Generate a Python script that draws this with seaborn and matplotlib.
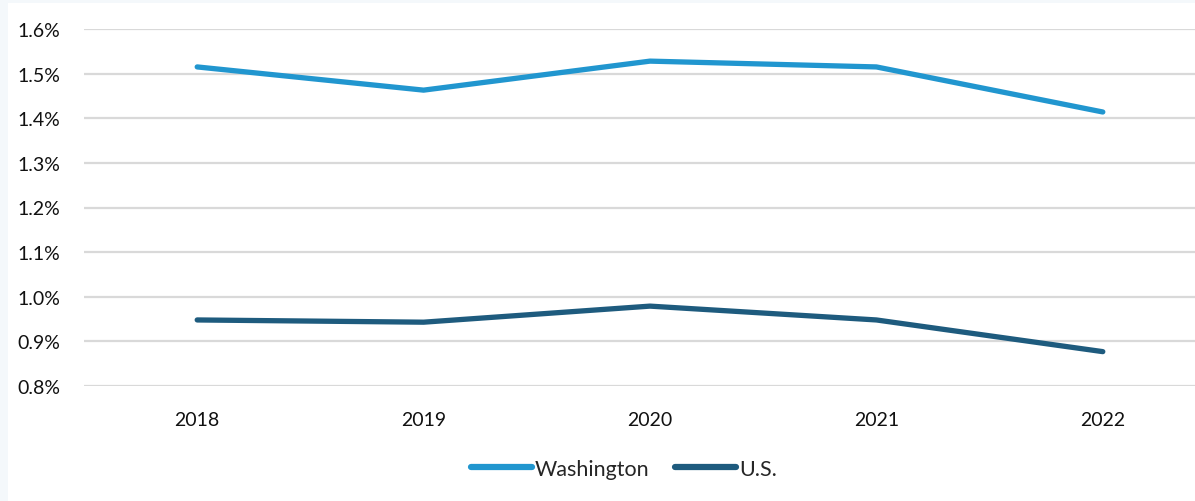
import pandas as pd
import matplotlib.pyplot as plt
import matplotlib.patches as mpatches
import seaborn as sns

years = ['2018', '2019', '2020', '2021', '2022']
washington = [1.515, 1.463, 1.528, 1.515, 1.414]
us = [0.948, 0.943, 0.979, 0.948, 0.877]
series_names = ['Washington', 'U.S.']
y_ticks = [0.8, 0.9, 1.0, 1.1, 1.2, 1.3, 1.4, 1.5, 1.6]

df = pd.DataFrame({
    'Year': years * 2,
    'Share': washington + us,
    'Series': [series_names[0]] * len(years) + [series_names[1]] * len(years),
})

sns.set_style('white')
plt.rcParams['font.family'] = ['Lato', 'DejaVu Sans']

fig = plt.figure(figsize=(11.95, 5.02), dpi=100, facecolor='#f4f8fb')
# white panel, with a thin tinted margin on the left and top
fig.patches.append(mpatches.Rectangle((8 / 1195, 0), 1, 498 / 502, transform=fig.transFigure,
                                      facecolor='white', edgecolor='none', zorder=-10))

# axes runs past the right edge, like the cropped original
ax = fig.add_axes([84 / 1195, (502 - 387) / 502, (1216 - 84) / 1195, 357 / 502])
ax.set_facecolor('none')

sns.lineplot(data=df, x='Year', y='Share', hue='Series', ax=ax,
             palette=['#2196cf', '#1e5b7e'], linewidth=3.8, sort=False,
             solid_capstyle='round')

ax.set_xlim(-0.5, 4.5)
ax.set_ylim(0.8, 1.6)
ax.set_yticks(y_ticks)
ax.set_yticklabels([f'{v:.1f}%' for v in y_ticks])
ax.grid(axis='y', color='#d9d9d9', linewidth=1.6)
ax.set_axisbelow(True)
for s in ax.spines.values():
    s.set_visible(False)
ax.tick_params(axis='y', length=0, pad=17, labelsize=14, labelcolor='#111111')
ax.tick_params(axis='x', length=0, pad=18, labelsize=14, labelcolor='#111111')
ax.set_xlabel('')
ax.set_ylabel('')

leg = ax.legend(loc='center', bbox_to_anchor=(624 / 1195, 32 / 502),
                bbox_transform=fig.transFigure, ncol=2, frameon=False,
                fontsize=15.5, handlelength=2.8, handletextpad=0.15, columnspacing=1.2)
for line in leg.get_lines():
    line.set_linewidth(4.5)
    line.set_solid_capstyle('round')

fig.savefig('out.png', dpi=100, facecolor=fig.get_facecolor())
